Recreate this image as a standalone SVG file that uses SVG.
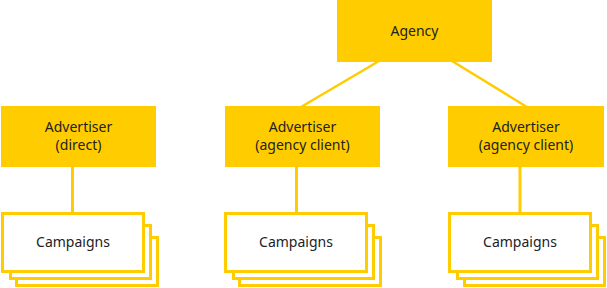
<svg xmlns="http://www.w3.org/2000/svg" width="607" height="288" viewBox="0 0 607 288">
<style>
.box{fill:#ffcc00;}
.card{fill:#ffffff;stroke:#ffcc00;stroke-width:3;}
.edge{stroke:#ffcc00;fill:none;}
text{font-family:"Noto Sans","Open Sans",sans-serif;font-size:14px;fill:#222222;text-anchor:middle;}
</style>
<rect width="607" height="288" fill="#ffffff"/>
<g id="connectors">
<line class="edge" x1="379" y1="61" x2="301" y2="107" stroke-width="2.5"/>
<line class="edge" x1="452" y1="61" x2="527" y2="107" stroke-width="2.5"/>
<line class="edge" x1="72.5" y1="166" x2="72.5" y2="213" stroke-width="3"/>
<line class="edge" x1="296.5" y1="166" x2="296.5" y2="213" stroke-width="3"/>
<line class="edge" x1="520" y1="166" x2="520" y2="213" stroke-width="3"/>
</g>
<g id="agency">
<rect class="box" x="337" y="0" width="155" height="62"/>
<text x="414.5" y="36">Agency</text>
</g>
<g id="advertiser-direct">
<rect class="box" x="1" y="106" width="155" height="61"/>
<text x="78.5" y="132">Advertiser</text>
<text x="78.5" y="150">(direct)</text>
</g>
<g id="advertiser-client-1">
<rect class="box" x="225" y="106" width="155" height="61"/>
<text x="302.5" y="132">Advertiser</text>
<text x="302.5" y="150">(agency client)</text>
</g>
<g id="advertiser-client-2">
<rect class="box" x="448" y="106" width="156" height="61"/>
<text x="526" y="132">Advertiser</text>
<text x="526" y="150">(agency client)</text>
</g>
<g id="campaigns-1">
<rect class="card" x="16.5" y="237.5" width="141" height="48"/>
<rect class="card" x="10.5" y="225.5" width="140" height="53"/>
<rect class="card" x="2.5" y="213.5" width="141" height="58"/>
<text x="73" y="247">Campaigns</text>
</g>
<g id="campaigns-2">
<rect class="card" x="239.5" y="237.5" width="141" height="48"/>
<rect class="card" x="233.5" y="225.5" width="140" height="53"/>
<rect class="card" x="225.5" y="213.5" width="141" height="58"/>
<text x="296" y="247">Campaigns</text>
</g>
<g id="campaigns-3">
<rect class="card" x="464.5" y="237.5" width="140" height="48"/>
<rect class="card" x="457.5" y="225.5" width="140" height="53"/>
<rect class="card" x="449.5" y="213.5" width="141" height="58"/>
<text x="520" y="247">Campaigns</text>
</g>
</svg>
